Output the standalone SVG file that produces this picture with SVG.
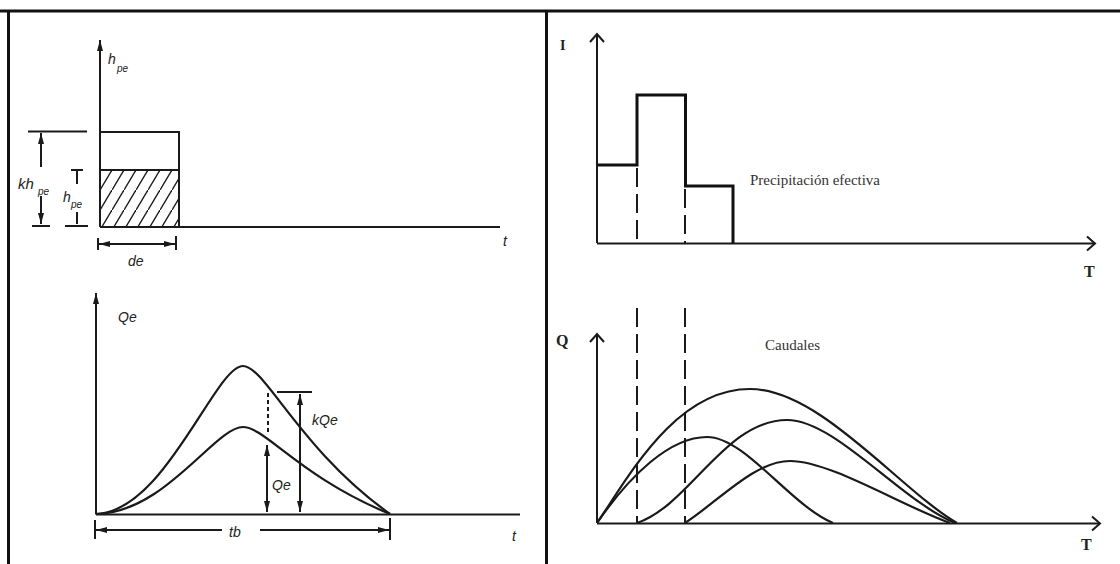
<svg xmlns="http://www.w3.org/2000/svg" width="1120" height="564" viewBox="0 0 1120 564">
<style>
.ln{stroke:#1a1a1a;stroke-width:2;fill:none;stroke-linecap:butt}
.th{stroke:#111;stroke-width:3;fill:none}
.cv{stroke:#1a1a1a;stroke-width:2.2;fill:none}
.ds{stroke:#1a1a1a;stroke-width:2;fill:none;stroke-dasharray:19 7}
.dd{stroke:#1a1a1a;stroke-width:2;fill:none;stroke-dasharray:4 3}
.it{font-family:"Liberation Sans",Arial,sans-serif;font-style:italic;fill:#222}
.sf{font-family:"Liberation Serif","Times New Roman",serif;fill:#333}
.sb{font-family:"Liberation Serif","Times New Roman",serif;font-weight:bold;fill:#222}
</style>
<defs>
<marker id="fa" viewBox="0 0 11 6" refX="11" refY="3" markerWidth="11" markerHeight="6" markerUnits="userSpaceOnUse" orient="auto-start-reverse">
<path d="M0,0 L11,3 L0,6 z" fill="#1a1a1a"/>
</marker>
<marker id="oa" viewBox="0 0 10 16" refX="9" refY="8" markerWidth="10" markerHeight="16" markerUnits="userSpaceOnUse" orient="auto" overflow="visible">
<path d="M1,1 L9,8 L1,15" fill="none" stroke="#1a1a1a" stroke-width="2"/>
</marker>
<pattern id="hatch" patternUnits="userSpaceOnUse" x="100" y="170" width="12" height="20">
<path d="M-1,21.7 L13,-1.7" stroke="#1a1a1a" stroke-width="1.4"/>
</pattern>
</defs>
<rect width="1120" height="564" fill="#fff"/>
<g id="frame">
<line class="th" x1="0" y1="11" x2="1120" y2="11"/>
<line class="th" x1="8.5" y1="10" x2="8.5" y2="564"/>
<line class="th" x1="546.5" y1="10" x2="546.5" y2="564"/>
</g>
<g id="rainfall-block">
<rect x="100" y="170" width="79" height="57" fill="url(#hatch)"/>
<path class="ln" d="M100,132 H179 V227"/>
<line class="ln" x1="100" y1="170" x2="179" y2="170"/>
<line class="ln" x1="100" y1="227" x2="100" y2="40" marker-end="url(#fa)"/>
<line class="ln" x1="100" y1="227" x2="500" y2="227"/>
<text class="it" x="108" y="64" font-size="14">h</text>
<text class="it" x="117" y="72" font-size="10">pe</text>
<text class="it" x="503" y="246" font-size="14">t</text>
<line class="ln" x1="28" y1="131.5" x2="87" y2="131.5"/>
<line class="ln" x1="41" y1="167" x2="41" y2="133" marker-end="url(#fa)"/>
<line class="ln" x1="41" y1="196" x2="41" y2="224" marker-end="url(#fa)"/>
<line class="ln" x1="32" y1="226" x2="50" y2="226"/>
<line class="ln" x1="65" y1="226" x2="88" y2="226"/>
<text class="it" x="18" y="189" font-size="15">kh</text>
<text class="it" x="38" y="195" font-size="10">pe</text>
<line class="ln" x1="71" y1="170" x2="83" y2="170"/>
<line class="ln" x1="77" y1="170" x2="77" y2="184" stroke-width="2.5"/>
<line class="ln" x1="77" y1="212" x2="77" y2="224"/>
<text class="it" x="63" y="202" font-size="14">h</text>
<text class="it" x="71" y="208" font-size="10">pe</text>
<line class="ln" x1="98" y1="238" x2="98" y2="250"/>
<line class="ln" x1="176" y1="236" x2="176" y2="250"/>
<line class="ln" x1="99" y1="244" x2="175" y2="244" marker-start="url(#fa)" marker-end="url(#fa)"/>
<text class="it" x="128" y="266" font-size="14">de</text>
</g>
<g id="unit-hydrograph">
<line class="ln" x1="96" y1="514.5" x2="96" y2="293" marker-end="url(#fa)"/>
<line class="ln" x1="96" y1="514.5" x2="520" y2="514.5"/>
<text class="it" x="118" y="322" font-size="14">Qe</text>
<text class="it" x="512" y="541" font-size="14">t</text>
<path class="cv" d="M96,514 C165,512 215,366 243,366 C265,366 300,450 390,514"/>
<path class="cv" d="M96,514 C165,513 215,427 243,427 C265,427 300,477 390,514"/>
<line class="dd" x1="268" y1="393" x2="268" y2="434"/>
<line class="ln" x1="267" y1="445" x2="267" y2="512" marker-start="url(#fa)" marker-end="url(#fa)"/>
<text class="it" x="272" y="490" font-size="14">Qe</text>
<line class="ln" x1="277" y1="392" x2="312" y2="392"/>
<line class="ln" x1="300" y1="394" x2="300" y2="512" marker-start="url(#fa)" marker-end="url(#fa)"/>
<text class="it" x="312" y="425" font-size="14">kQe</text>
<line class="ln" x1="95" y1="520" x2="95" y2="539"/>
<line class="ln" x1="390" y1="518" x2="390" y2="540"/>
<line class="ln" x1="222" y1="530" x2="96" y2="530" marker-end="url(#fa)"/>
<line class="ln" x1="260" y1="530" x2="389" y2="530" marker-end="url(#fa)"/>
<text class="it" x="229" y="537" font-size="14">tb</text>
</g>
<g id="hyetograph">
<line class="ln" x1="597" y1="243" x2="597" y2="34" marker-end="url(#oa)"/>
<line class="ln" x1="597" y1="243.5" x2="1095" y2="243.5" stroke-width="2.5" marker-end="url(#oa)"/>
<path class="th" d="M597,165 H637 V95 H685.5 V186 H733 V243"/>
<line class="ds" x1="637" y1="168" x2="637" y2="243"/>
<line class="ds" x1="685" y1="189" x2="685" y2="243"/>
<text class="sb" x="560" y="50" font-size="14">I</text>
<text class="sb" x="1084" y="277" font-size="16">T</text>
<text class="sf" x="750" y="185" font-size="14" textLength="130" lengthAdjust="spacingAndGlyphs">Precipitación efectiva</text>
</g>
<g id="hydrographs">
<line class="ln" x1="597" y1="523" x2="597" y2="334" marker-end="url(#oa)"/>
<line class="ln" x1="597" y1="523.5" x2="1100" y2="523.5" marker-end="url(#oa)"/>
<line class="ds" x1="637" y1="308" x2="637" y2="523"/>
<line class="ds" x1="685" y1="308" x2="685" y2="523"/>
<text class="sb" x="556" y="346" font-size="16">Q</text>
<text class="sb" x="1081" y="550" font-size="16">T</text>
<text class="sf" x="765" y="350" font-size="14" textLength="55" lengthAdjust="spacingAndGlyphs">Caudales</text>
<path class="cv" d="M597,523 C630,475 670,437 707,437 C745,437 790,505 833,523"/>
<path class="cv" d="M637,523 C690,505 725,420 787,420 C835,420 900,500 955,523"/>
<path class="cv" d="M685,523 C720,500 755,461 790,461 C830,461 900,505 950,523"/>
<path class="cv" d="M597,523 C628,478 675,389 750,389 C820,389 900,490 957,523"/>
</g>
</svg>
